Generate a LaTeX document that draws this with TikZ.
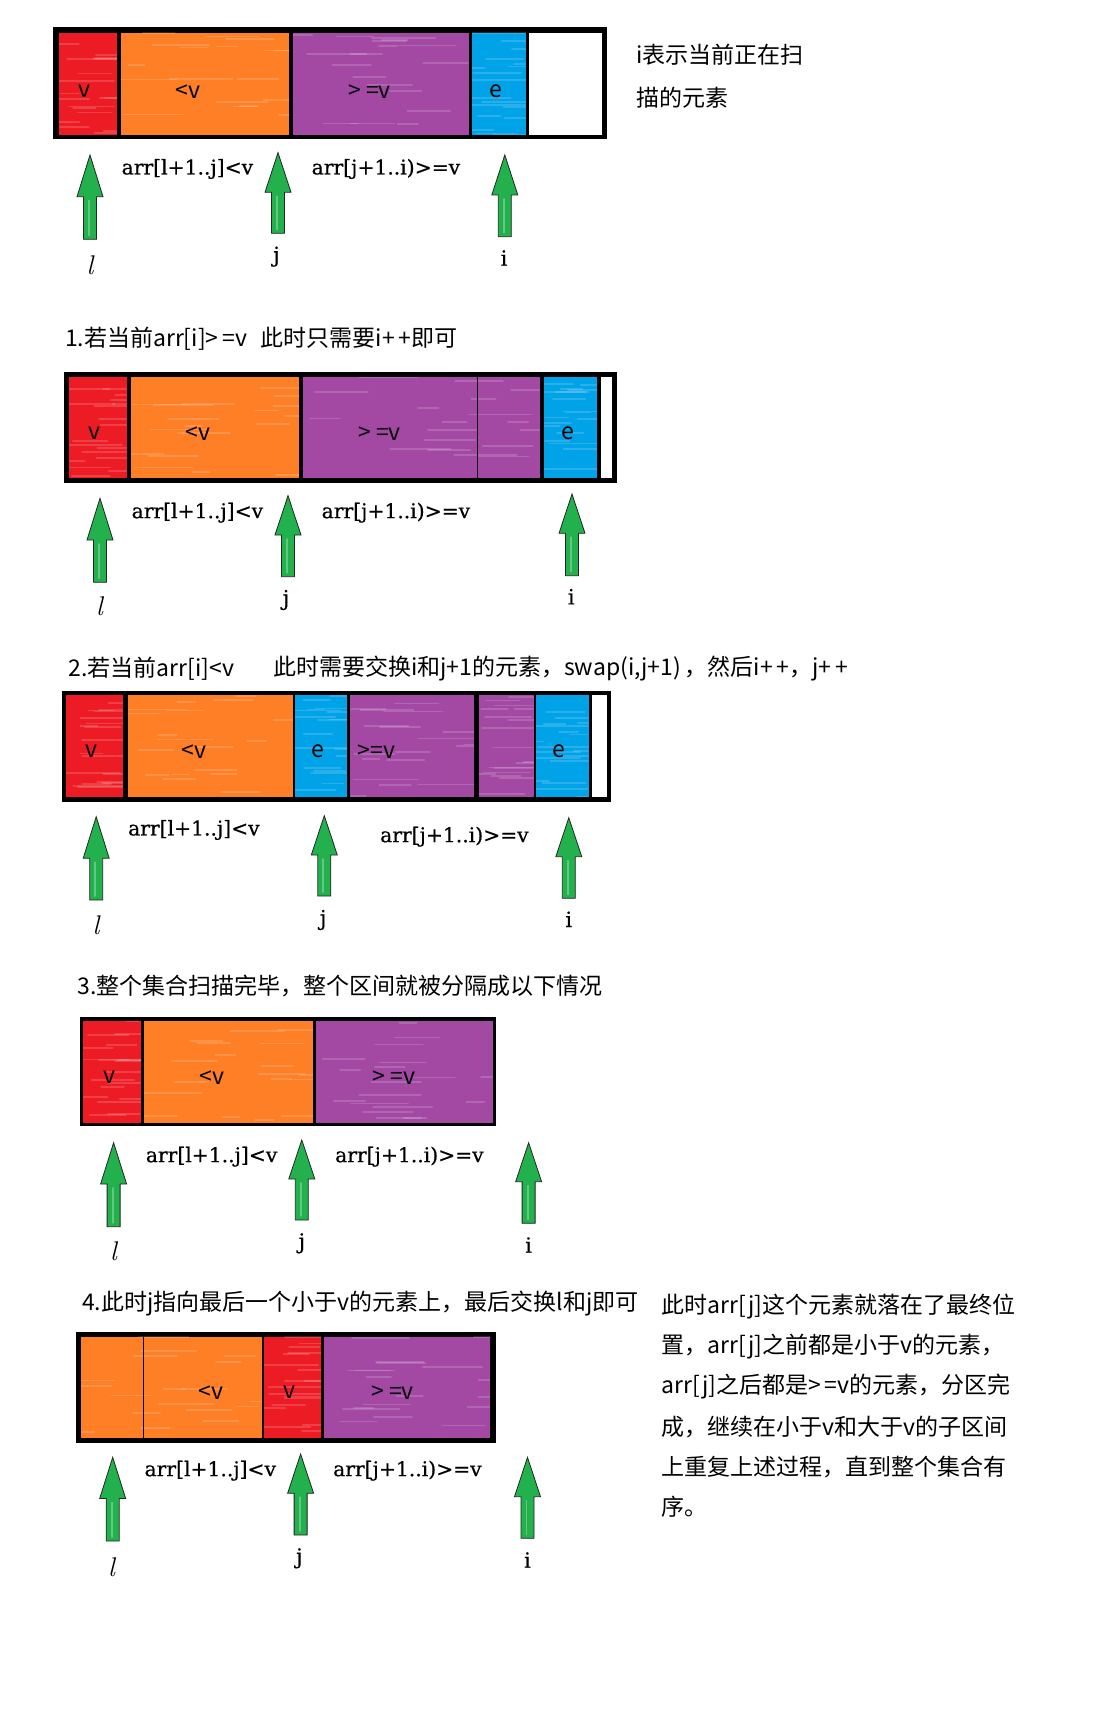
\documentclass[tikz,border=0pt]{standalone}
\usepackage{fontspec}
\newfontfamily\cjkfont{Noto Sans CJK SC}
\newfontfamily\arrfont{DejaVu Serif}[FakeBold=0.6]
\definecolor{pred}{HTML}{ED1C24}
\definecolor{porange}{HTML}{FF7F27}
\definecolor{ppurple}{HTML}{A349A4}
\definecolor{pblue}{HTML}{00A2E8}
\definecolor{pgreen}{HTML}{22B14C}
\tikzset{
  celltext/.style={font=\cjkfont\fontsize{23}{26}\selectfont, text=black, inner sep=0pt},
  titletext/.style={font=\cjkfont\fontsize{23}{28}\selectfont, anchor=west, inner sep=0pt},
  arrtext/.style={font=\arrfont\fontsize{20.3}{24}\selectfont, anchor=west, inner sep=0pt},
  ptrtext/.style={font=\arrfont\fontsize{21}{24}\selectfont, inner sep=0pt},
  ltext/.style={font=\fontsize{27}{28}\selectfont\itshape, inner sep=0pt},
  garrowstyle/.style={fill=pgreen, draw=black!85, line width=0.8pt, line join=miter},
  thinsep/.style={draw=black, line width=1pt},
  streak/.style={draw=white, opacity=0.16, line width=1.8pt, line cap=round}
}
% name, x, ytip, ybase, ybottom
\newcommand\garrow[5]{%
  \coordinate (#1) at (#2,#3);
  \draw[garrowstyle] (#2,#3) -- (#2+13,#4) -- (#2+6.5,#4) -- (#2+6.5,#5)
     -- (#2-6.5,#5) -- (#2-6.5,#4) -- (#2-13,#4) -- cycle;
  \draw[streak, opacity=0.3] (#2-1,#4+4) -- (#2-1,#5-4);}
% colour, x1, y1, x2, y2 : textured paint cell
\newcommand\pcell[5]{%
  \fill[#1] (#2,#3) rectangle (#4,#5);
  \begin{scope}
    \clip (#2,#3) rectangle (#4,#5);
    \foreach \k in {1,...,18}{%
      \pgfmathsetmacro\yy{#3+rnd*(#5-#3)}%
      \pgfmathsetmacro\xa{#2-10+rnd*(#4-#2)}%
      \pgfmathsetmacro\ll{15+rnd*50}%
      \draw[streak] (\xa,\yy) -- ++(\ll,0);
    }
  \end{scope}}
\begin{document}
\begin{tikzpicture}[x=1pt,y=-1pt]
\pgfmathsetseed{7}
\useasboundingbox (0,0) rectangle (1100,1712);
\fill[white] (0,0) rectangle (1100,1712);

% ================= Section 0 =================
\fill[black] (52.7,27.3) rectangle (606.5,139.5);
\pcell{pred}{58.5}{32.7}{117}{135}
\pcell{porange}{120.7}{32.7}{289.3}{135}
\pcell{ppurple}{293}{32.7}{468.5}{135}
\pcell{pblue}{472}{32.7}{526}{135}
\fill[white]   (528.5,32.7) rectangle (601.5,135);
\node[celltext] (a0v) at (84.4,91.7) {v};
\node[celltext] (a0lt) at (188,91.7) {<v};
\node[celltext] (a0ge) at (369.6,91.7) {> =v};
\node[celltext] (a0e) at (496,91.7) {e};
\node[titletext] (n0a) at (636,55) {i表示当前正在扫};
\node[titletext] (n0b) at (636,98) {描的元素};
\garrow{p0l}{90}{155}{196.7}{239.3}
\garrow{p0j}{278}{152.7}{192.3}{233.3}
\garrow{p0i}{504.8}{155}{195}{236.7}
\node[arrtext] (r0a) at (121.5,169) {arr[l+1..j]<v};
\node[arrtext] (r0b) at (311.5,169) {arr[j+1..i)>=v};
\node[ltext] (l0) at (90,265) {l};
\node[ptrtext] (j0) at (276.5,256.7) {j};
\node[ptrtext] (i0) at (504,258) {i};

% ================= Section 1 =================
\node[titletext] (t1) at (64.8,338.3) {1.若当前arr[i]>\,=v\hspace{0.6em}此时只需要i+\,+即可};
\fill[black] (64,371.7) rectangle (616.7,482.7);
\pcell{pred}{68.8}{376.7}{127.3}{477.7}
\pcell{porange}{131}{376.7}{299.3}{477.7}
\pcell{ppurple}{303}{376.7}{540}{477.7}
\draw[thinsep] (477.8,376.7) -- (477.8,477.7);
\pcell{pblue}{544.4}{376.7}{597.4}{477.7}
\fill[white]   (601,376.7) rectangle (612,477.7);
\node[celltext] (a1v) at (94.4,433.3) {v};
\node[celltext] (a1lt) at (198,433.3) {<v};
\node[celltext] (a1ge) at (379.6,433.3) {> =v};
\node[celltext] (a1e) at (567.8,433.3) {e};
\garrow{p1l}{100}{498.3}{540}{582.3}
\garrow{p1j}{288}{495.7}{535}{576.7}
\garrow{p1i}{572}{494}{533.3}{575.7}
\node[arrtext] (r1a) at (131.5,512.7) {arr[l+1..j]<v};
\node[arrtext] (r1b) at (321.5,512.7) {arr[j+1..i)>=v};
\node[ltext] (l1) at (99.4,606.7) {l};
\node[ptrtext] (j1) at (286,600) {j};
\node[ptrtext] (i1) at (571.3,596.7) {i};

% ================= Section 2 =================
\node[titletext] (t2a) at (68.6,668.3) {2.若当前arr[i]<v};
\node[titletext] (t2b) at (272.8,668.3) {此时需要交换i和j+1的元素，swap(i,j+1)\,，然后i+\,+，j+\,+};
\fill[black] (61.7,690.7) rectangle (611.3,801.7);
\pcell{pred}{65.9}{695}{123.2}{796.7}
\pcell{porange}{127.5}{695}{293}{796.7}
\pcell{pblue}{294.5}{695}{347}{796.7}
\pcell{ppurple}{350.3}{695}{474.4}{796.7}
\pcell{ppurple}{478.6}{695}{533.8}{796.7}
\pcell{pblue}{536}{695}{588.5}{796.7}
\fill[white]   (591.6,695) rectangle (607,796.7);
\node[celltext] (a2v) at (91.4,751.7) {v};
\node[celltext] (a2lt) at (194.3,751.7) {<v};
\node[celltext] (a2e1) at (317.9,751.7) {e};
\node[celltext] (a2ge) at (376.3,751.7) {>=v};
\node[celltext] (a2e2) at (559.3,751.7) {e};
\garrow{p2l}{96.2}{816.7}{858.3}{900}
\garrow{p2j}{324.3}{815.7}{855}{896}
\garrow{p2i}{568.8}{817.7}{856.7}{898.3}
\node[arrtext] (r2a) at (128,830) {arr[l+1..j]<v};
\node[arrtext] (r2b) at (380,836.7) {arr[j+1..i)>=v};
\node[ltext] (l2) at (96,925) {l};
\node[ptrtext] (j2) at (323.2,920) {j};
\node[ptrtext] (i2) at (568.8,919.3) {i};

% ================= Section 3 =================
\node[titletext] (t3) at (77.1,986) {3.整个集合扫描完毕，整个区间就被分隔成以下情况};
\fill[black] (79.7,1017.3) rectangle (496.4,1125.7);
\pcell{pred}{82.9}{1020.7}{141.4}{1122.7}
\pcell{porange}{144.3}{1020.7}{312.9}{1122.7}
\pcell{ppurple}{316.4}{1020.7}{492.9}{1122.7}
\node[celltext] (a3v) at (109.3,1077.3) {v};
\node[celltext] (a3lt) at (211.8,1077.3) {<v};
\node[celltext] (a3ge) at (394,1077.3) {> =v};
\garrow{p3l}{113.6}{1142.7}{1184}{1226.7}
\garrow{p3j}{301.8}{1140}{1179}{1220}
\garrow{p3i}{528.6}{1142.7}{1181.7}{1223.3}
\node[arrtext] (r3a) at (145.7,1156.7) {arr[l+1..j]<v};
\node[arrtext] (r3b) at (335,1156.7) {arr[j+1..i)>=v};
\node[ltext] (l3) at (113.6,1251.7) {l};
\node[ptrtext] (j3) at (301.8,1243.3) {j};
\node[ptrtext] (i3) at (528.6,1245) {i};

% ================= Section 4 =================
\node[titletext] (t4) at (81.9,1304) {4.此时j指向最后一个小于v的元素上，最后交换l和j即可};
\fill[black] (76,1332.3) rectangle (495.6,1442.7);
\pcell{porange}{81}{1336.7}{261.9}{1437.7}
\draw[thinsep] (143.3,1336.7) -- (143.3,1437.7);
\pcell{pred}{263.6}{1336.7}{321.3}{1437.7}
\pcell{ppurple}{323.8}{1336.7}{490}{1437.7}
\node[celltext] (a4lt) at (211,1392.7) {<v};
\node[celltext] (a4v) at (289.4,1392.7) {v};
\node[celltext] (a4ge) at (392.5,1392.7) {> =v};
\garrow{p4l}{112.7}{1457.3}{1498.5}{1541}
\garrow{p4j}{300.6}{1454}{1493.3}{1535}
\garrow{p4i}{527.5}{1457.3}{1496.7}{1538.3}
\node[arrtext] (r4a) at (144.4,1470.7) {arr[l+1..j]<v};
\node[arrtext] (r4b) at (333,1470.7) {arr[j+1..i)>=v};
\node[ltext] (l4) at (111.5,1567) {l};
\node[ptrtext] (j4) at (299.4,1558.3) {j};
\node[ptrtext] (i4) at (527.5,1560) {i};

\node[titletext] (n4a) at (661.3,1306.7) {此时arr[j]这个元素就落在了最终位};
\node[titletext] (n4b) at (661.3,1346.7) {置，arr[j]之前都是小于v的元素，};
\node[titletext] (n4c) at (661.3,1386.7) {arr[j]之后都是>\,=v的元素，分区完};
\node[titletext] (n4d) at (661.3,1426.7) {成，继续在小于v和大于v的子区间};
\node[titletext] (n4e) at (661.3,1466.7) {上重复上述过程，直到整个集合有};
\node[titletext] (n4f) at (661.3,1506.7) {序。};
\end{tikzpicture}
\end{document}
